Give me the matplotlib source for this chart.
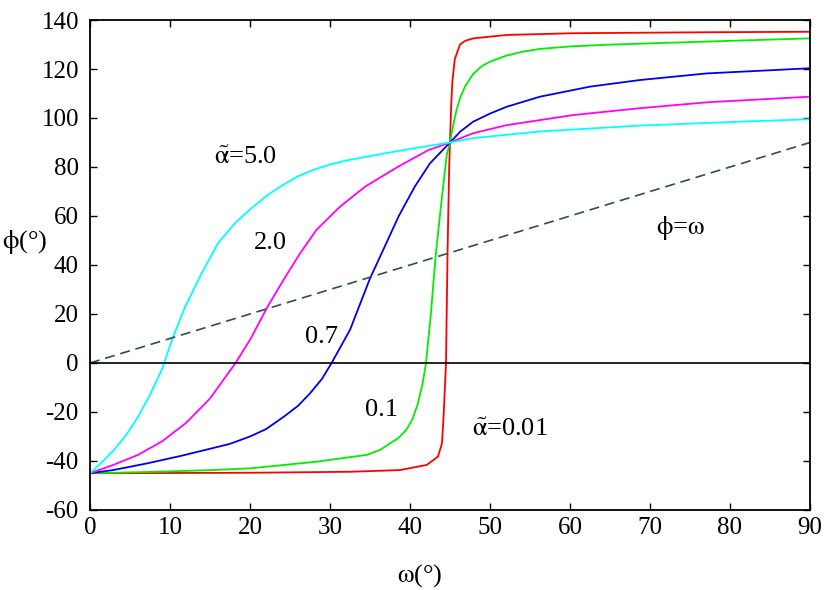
import matplotlib.pyplot as plt

plt.rcParams['font.family'] = ['Liberation Serif', 'DejaVu Serif']
plt.rcParams['mathtext.fontset'] = 'stix'

# alpha = 5.0 (cyan)
x_a50 = [0, 1.5, 3, 4.5, 6, 7.5, 9, 10.4, 11.9, 13.96, 16.0, 18.1, 20.1, 22.3,
         24.3, 26, 27.9, 30, 32.1, 36.25, 40.4, 45, 47.9, 56.25, 68.75, 81.25, 90]
y_a50 = [-45, -40.5, -35.5, -29.5, -22, -13, -2.5, 10.7, 23, 36.6, 48.9, 57, 63,
         68.8, 73, 76.2, 78.8, 81, 82.7, 85.2, 87.6, 90, 91.8, 94.5, 96.9, 98.5, 99.5]

# alpha = 2.0 (magenta)
x_a20 = [0, 3, 6, 9, 12, 15, 18.2, 20.1, 22.2, 24.3, 26.25, 28.3, 31.25,
         34.4, 38.5, 42.3, 45, 47.9, 52.1, 60.4, 68.75, 77.1, 90]
y_a20 = [-45, -41.5, -37.5, -32, -24.5, -14.5, 0, 10, 23, 34.5, 44.7, 54.3, 63.8,
         72, 80.1, 86.9, 90, 93.8, 97.1, 101.2, 104, 106.4, 108.7]

# alpha = 0.7 (blue)
x_a07 = [0, 2.9, 7.1, 11.25, 15.4, 17.5, 20, 22, 24.2, 26, 27.5, 29, 30.2, 32.5,
         35, 36.7, 38.6, 40.6, 42.5, 45, 46.3, 47.9, 50, 52.1, 56.25, 62.5, 68.75,
         77.1, 90]
y_a07 = [-45, -43.7, -41, -38, -34.7, -33, -30, -27, -22, -17.5, -12.4, -6.5, 0,
         13.5, 34.5, 46.5, 60, 72, 81.5, 90, 94.5, 98.5, 101.8, 104.6, 108.7, 112.8,
         115.5, 118.2, 120.3]

# alpha = 0.1 (green)
x_a01 = [0, 7.1, 15.4, 20, 28.3, 34.6, 36.25, 37.5, 38.6, 39.6, 40.3, 41.0, 41.6,
         42.0, 42.6, 43.2, 44, 44.6, 45, 45.4, 45.8, 46.25, 46.9, 47.9, 49, 50, 52.1,
         54, 56.25, 60, 64.6, 77.1, 90]
y_a01 = [-45, -44.5, -43.7, -43, -40.3, -37.5, -35.5, -32.8, -30.5, -27, -23, -16.5,
         -8, 0, 19.5, 43.5, 68, 85, 90, 97, 103, 108, 113, 118, 121.2, 123, 125.5,
         127, 128.2, 129.2, 129.9, 131.2, 132.5]

# alpha = 0.01 (red)
x_a001 = [0, 20, 32.5, 38.75, 42.1, 43.5, 44.0, 44.2, 44.5, 44.7, 44.9, 45.0,
          45.15, 45.3, 45.6, 46.25, 46.9, 47.9, 52.1, 60.4, 77.1, 90]
y_a001 = [-45, -44.8, -44.4, -43.7, -41.6, -38.2, -32.8, -21.9, 0, 46, 80, 90,
          105, 115, 124, 130, 131.5, 132.5, 133.9, 134.6, 135, 135.2]

x_ref = [0, 90]
y_ref = [0, 90]

fig = plt.figure(figsize=(8.3, 5.9), dpi=100)
ax = fig.add_axes([0.1084, 0.1356, 0.8675, 0.8305])

lw = 1.3
ax.plot(x_a001, y_a001, color='#ff0000', lw=lw)
ax.plot(x_a01, y_a01, color='#00ee00', lw=lw)
ax.plot(x_a07, y_a07, color='#0000ee', lw=lw)
ax.plot(x_a20, y_a20, color='#ff00ff', lw=lw)
ax.plot(x_a50, y_a50, color='#00ffff', lw=lw)
ax.plot(x_ref, y_ref, color='#2f4f4f', lw=1.2, linestyle=(0, (6, 3.5)))
ax.axhline(0, color='black', lw=1.2)

ax.set_xlim(0, 90)
ax.set_ylim(-60, 140)
ax.set_xticks(range(0, 91, 10))
ax.set_yticks(range(-60, 141, 20))
ax.set_yticklabels([str(v) for v in range(-60, 141, 20)])
ax.tick_params(direction='in', top=True, right=True, length=5, width=1,
               labelsize=18)
ax.tick_params(axis='x', pad=5)
ax.tick_params(axis='y', pad=8)
for s in ax.spines.values():
    s.set_linewidth(1.3)

ax.set_xlabel(r'$\mathrm{\omega}$(°)', fontsize=19)
ax.xaxis.label.set_va('center')
ax.xaxis.set_label_coords(0.458, -0.133)
ax.set_ylabel(r'$\mathrm{\phi}$(°)', fontsize=19, rotation=0, va='center')
ax.yaxis.set_label_coords(-0.09, 0.547)

fs = 19
alpha_t = r'$\tilde{\mathrm{\alpha}}$'
ax.text(19.4, 83.7, alpha_t + '=5.0', fontsize=fs, ha='center', va='center')
ax.text(22.5, 49, '2.0', fontsize=fs, ha='center', va='center')
ax.text(29, 10.6, '0.7', fontsize=fs, ha='center', va='center')
ax.text(36.5, -19, '0.1', fontsize=fs, ha='center', va='center')
ax.text(52.5, -27.3, alpha_t + '=0.01', fontsize=fs, ha='center', va='center')
ax.text(73.75, 55, r'$\mathrm{\phi}$=$\mathrm{\omega}$', fontsize=fs,
        ha='center', va='center')

fig.savefig('out.png', dpi=100)
